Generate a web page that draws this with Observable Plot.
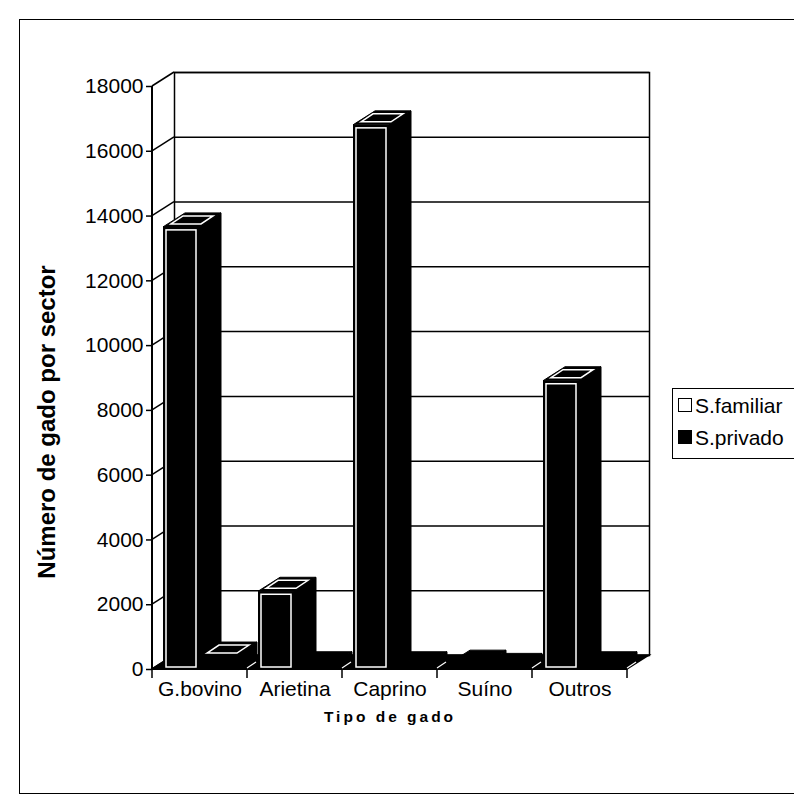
<!DOCTYPE html>
<html><head><meta charset="utf-8">
<script src="https://cdn.jsdelivr.net/npm/d3@7"></script>
<script src="https://cdn.jsdelivr.net/npm/@observablehq/plot@0.6"></script>
<style>
html,body{margin:0;padding:0;background:#fff;overflow:hidden;}
#wrap{position:relative;width:794px;height:812px;overflow:hidden;font-family:"Liberation Sans",Arial,sans-serif;color:#000;}
#border{position:absolute;left:19px;top:19px;width:800px;height:775px;border:1.5px solid #000;box-sizing:border-box;}
#chart{position:absolute;left:0;top:0;}
#legend{position:absolute;left:672px;top:388px;width:140px;height:71px;border:1.5px solid #000;box-sizing:border-box;background:#fff;}
.item{position:absolute;left:5px;height:24px;line-height:24px;font-size:21px;white-space:nowrap;}
.sw{display:inline-block;width:12px;height:12px;border:1.5px solid #000;vertical-align:middle;margin-right:3px;position:relative;top:-2px;}
#xtitle{position:absolute;left:0;width:780px;text-align:center;top:708px;font-weight:bold;font-size:15.5px;letter-spacing:3px;}
</style></head>
<body><div id="wrap"><div id="border"></div><div id="chart"></div><div id="legend"></div><div id="xtitle"></div></div>
<script>
const categories = ["G.bovino", "Arietina", "Caprino", "Suíno", "Outros"];
const seriesNames = ["S.familiar", "S.privado"];
const seriesColors = ["#fff", "#000"];
const familiar = [13650, 2400, 16800, 150, 8900];
const privado = [400, 100, 100, 50, 100];
const yTicks = [0, 2000, 4000, 6000, 8000, 10000, 12000, 14000, 16000, 18000];
const yTitle = "Número de gado por sector";
const xTitle = "Tipo de gado";

const DX = 22, DY = -14;           // 3D depth offset (px)
const BAR_OFF = [11, 47], BAR_W = 36; // bar position inside a band (px)

const rows = [];
categories.forEach((c, i) => {
  rows.push({cat: c, series: 0, value: familiar[i]});
  rows.push({cat: c, series: 1, value: privado[i]});
});
const fam = rows.filter(d => d.series === 0);
const pri = rows.filter(d => d.series === 1);

function structure(index, scales, values, dims) {
  const {x, y} = scales;
  const g = d3.create("svg:g");
  const xl = dims.marginLeft, xr = dims.width - dims.marginRight;
  const y0 = y(0), yT = y(18000);
  for (const t of yTicks) {
    g.append("line").attr("x1", xl).attr("y1", y(t)).attr("x2", xl + DX).attr("y2", y(t) + DY)
      .attr("stroke", "#000").attr("stroke-width", 1.5);
  }
  g.append("polygon")
    .attr("points", [[xl, y0], [xr, y0], [xr + DX, y0 + DY], [xl + DX, y0 + DY]].map(p => p.join(",")).join(" "))
    .attr("fill", "#000").attr("stroke", "#000").attr("stroke-width", 1.5);
  g.append("line").attr("x1", xl).attr("x2", xl).attr("y1", yT).attr("y2", y0)
    .attr("stroke", "#000").attr("stroke-width", 2);
  g.append("line").attr("x1", xl).attr("x2", xr).attr("y1", y0).attr("y2", y0)
    .attr("stroke", "#000").attr("stroke-width", 2);
  const bounds = categories.map(c => x(c)).concat([xr]);
  for (const b of bounds) {
    g.append("line").attr("x1", b).attr("x2", b).attr("y1", y0).attr("y2", y0 + 9)
      .attr("stroke", "#000").attr("stroke-width", 1.5);
    if (b > xl) g.append("line").attr("x1", b).attr("y1", y0 - 1).attr("x2", b + 9).attr("y2", y0 - 7)
      .attr("stroke", "#fff").attr("stroke-width", 1.2);
  }
  return g.node();
}

function faces(index, scales) {
  const {x, y} = scales;
  const g = d3.create("svg:g");
  const pts = a => a.map(p => p.join(",")).join(" ");
  for (const d of rows) {
    const x1 = x(d.cat) + BAR_OFF[d.series], x2 = x1 + BAR_W;
    const yv = y(d.value), y0 = y(0);
    g.append("polygon").attr("points", pts([[x2, yv], [x2 + DX, yv + DY], [x2 + DX, y0 + DY], [x2, y0]]))
      .attr("fill", "#000").attr("stroke", "#000");
    g.append("polygon").attr("points", pts([[x1, yv], [x1 + DX, yv + DY], [x2 + DX, yv + DY], [x2, yv]]))
      .attr("fill", "#000").attr("stroke", "#000");
    if (y0 - yv > 10) {
      g.append("polygon").attr("points", pts([[x1 + 8, yv - 3], [x1 + DX - 2, yv + DY + 3], [x2 + DX - 8, yv + DY + 3], [x2 + 2, yv - 3]]))
        .attr("fill", "none").attr("stroke", "#fff").attr("stroke-width", 1.5);
    }
  }
  return g.node();
}

const chart = Plot.plot({
  width: 794, height: 812,
  marginLeft: 152, marginRight: 167, marginTop: 86, marginBottom: 143,
  x: {domain: categories, padding: 0},
  y: {domain: [0, 18000]},
  style: {fontFamily: "'Liberation Sans', Arial, sans-serif", fontSize: "21px", color: "#000", background: "transparent"},
  marks: [
    Plot.frame({dx: DX, dy: DY, stroke: "#000", strokeWidth: 1.5, fill: "#fff"}),
    Plot.gridY(yTicks, {dx: DX, dy: DY, stroke: "#000", strokeOpacity: 1, strokeWidth: 1.5}),
    structure,
    faces,
    Plot.barY(fam, {x: "cat", y: "value", fill: "#000", insetLeft: BAR_OFF[0], insetRight: 95 - BAR_OFF[0] - BAR_W}),
    Plot.barY(pri, {x: "cat", y: "value", fill: "#000", insetLeft: BAR_OFF[1], insetRight: 95 - BAR_OFF[1] - BAR_W}),
    Plot.barY(fam.filter(d => d.value > 400), {x: "cat", y: "value", fill: "none", stroke: "#fff", strokeWidth: 1.5,
      insetLeft: BAR_OFF[0] + 3, insetRight: 95 - BAR_OFF[0] - BAR_W + 3, insetTop: 3, insetBottom: 2}),
    Plot.axisY(yTicks, {tickSize: 6, tickPadding: 3, tickFormat: d => String(d), fontSize: 21, label: null, stroke: "#000", strokeWidth: 1.5}),
    Plot.axisX({tickSize: 0, tickPadding: 12, fontSize: 21, label: null}),
    Plot.text([yTitle], {frameAnchor: "left", textAnchor: "middle", dx: -105, dy: 44, rotate: -90, fontWeight: "bold", fontSize: 24, fill: "#000"})
  ]
});
document.getElementById("chart").appendChild(chart);

const leg = document.getElementById("legend");
seriesNames.forEach((n, i) => {
  const it = document.createElement("div");
  it.className = "item";
  it.style.top = (5 + i * 32) + "px";
  const sw = document.createElement("span");
  sw.className = "sw"; sw.style.background = seriesColors[i];
  it.appendChild(sw);
  it.appendChild(document.createTextNode(n));
  leg.appendChild(it);
});
document.getElementById("xtitle").textContent = xTitle;
</script></body></html>
